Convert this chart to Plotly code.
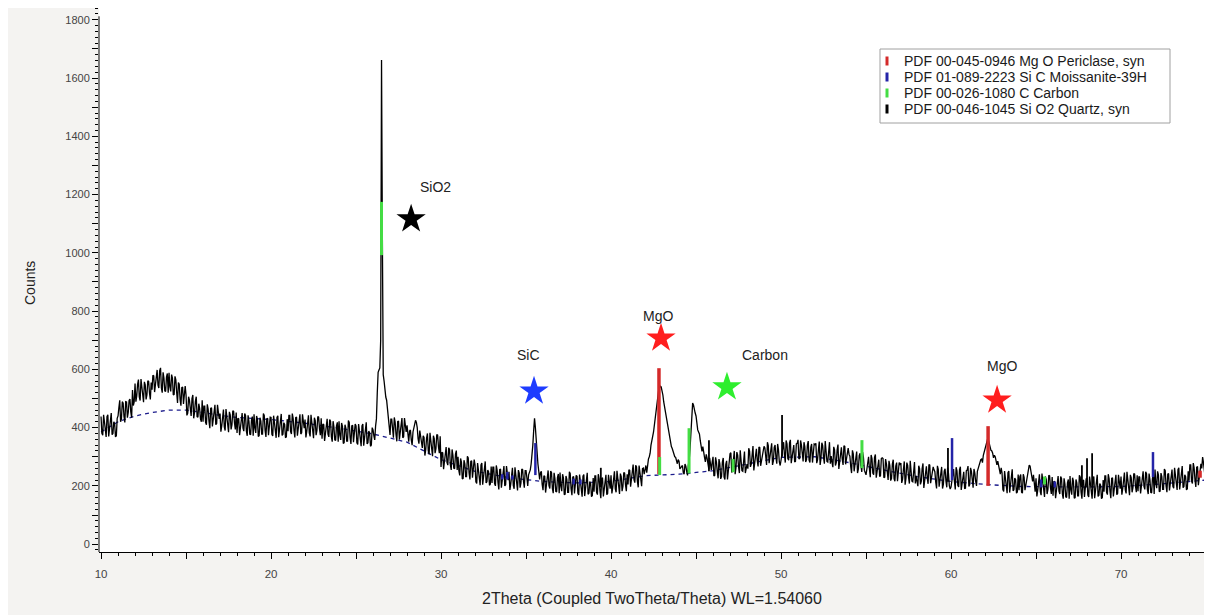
import numpy as np
import plotly.graph_objects as go

# ---------------- data ----------------
# counts at 10.0, 10.1, ... 75.0 deg
theta_start = 10.0
theta_step = 0.1
counts = [
    438, 374, 420, 368, 444, 394, 450, 380, 414, 372,   # 10
    440, 494, 430, 484, 418, 488, 452, 498, 434, 476,   # 11
    551, 509, 565, 493, 533, 487, 547, 513, 559, 497,   # 12
    530, 578, 550, 598, 536, 605, 520, 570, 524, 586,   # 13
    588, 524, 570, 514, 564, 485, 549, 475, 539, 507,   # 14
    512, 450, 494, 440, 512, 452, 506, 436, 466, 420,   # 15
    420, 474, 410, 464, 398, 468, 432, 478, 414, 456,   # 16
    448, 406, 462, 390, 430, 384, 444, 410, 456, 394,   # 17
    382, 430, 402, 450, 388, 442, 372, 422, 376, 438,   # 18
    446, 382, 428, 372, 422, 378, 442, 368, 432, 400,   # 19
    435, 371, 417, 365, 441, 391, 447, 377, 411, 369,   # 20
    388, 442, 378, 432, 366, 436, 400, 446, 382, 424,   # 21
    428, 386, 442, 370, 410, 364, 424, 390, 436, 374,   # 22
    362, 410, 382, 430, 368, 422, 352, 402, 356, 418,   # 23
    422, 358, 404, 348, 398, 354, 418, 344, 408, 376,   # 24
    406, 342, 388, 336, 412, 362, 418, 348, 382, 340,   # 25
    392, 358, 430, 590, 605, 1662, 582, 520, 494, 440,  # 26
    375, 429, 365, 419, 353, 423, 387, 433, 369, 411,   # 27
    408, 352, 392, 340, 398, 425, 400, 345, 372, 330,   # 28
    366, 324, 380, 308, 348, 302, 362, 328, 374, 312,   # 29
    265, 313, 285, 333, 271, 325, 255, 305, 259, 321,   # 30
    300, 236, 282, 226, 276, 232, 296, 222, 286, 254,   # 31
    272, 208, 254, 202, 278, 228, 284, 214, 248, 206,   # 32
    210, 264, 200, 254, 188, 258, 222, 268, 204, 246,   # 33
    248, 206, 262, 190, 230, 184, 244, 210, 256, 194,   # 34
    252, 200, 248, 275, 340, 432, 350, 275, 222, 250,   # 35
    185, 233, 205, 253, 191, 245, 175, 225, 179, 241,   # 36
    246, 182, 228, 172, 222, 178, 242, 168, 232, 200,   # 37
    233, 169, 215, 163, 239, 189, 245, 175, 209, 167,   # 38
    180, 234, 170, 224, 158, 228, 192, 238, 174, 216,   # 39
    236, 194, 250, 178, 218, 172, 232, 198, 244, 182,   # 40
    205, 253, 225, 273, 211, 265, 195, 245, 199, 261,   # 41
    262, 245, 292, 312, 362, 385, 438, 475, 528, 542,   # 42
    530, 488, 455, 412, 382, 348, 328, 305, 298, 276,   # 43
    285, 262, 270, 240, 268, 236, 290, 380, 484, 455,   # 44
    440, 392, 378, 338, 335, 298, 308, 272, 296, 255,   # 45
    300, 236, 282, 226, 276, 232, 296, 222, 286, 254,   # 46
    310, 246, 292, 240, 316, 266, 322, 252, 286, 244,   # 47
    275, 329, 265, 319, 253, 323, 287, 333, 269, 311,   # 48
    336, 294, 350, 278, 318, 272, 332, 298, 344, 282,   # 49
    288, 336, 308, 356, 294, 348, 278, 328, 282, 344,   # 50
    358, 294, 340, 284, 334, 290, 354, 280, 344, 312,   # 51
    342, 278, 324, 272, 348, 298, 354, 284, 318, 276,   # 52
    280, 334, 270, 324, 258, 328, 292, 338, 274, 316,   # 53
    308, 266, 322, 250, 290, 244, 304, 270, 316, 254,   # 54
    238, 286, 258, 306, 244, 298, 228, 278, 232, 294,   # 55
    294, 230, 276, 220, 270, 226, 290, 216, 280, 248,   # 56
    274, 210, 256, 204, 280, 230, 286, 216, 250, 208,   # 57
    215, 269, 205, 259, 193, 263, 227, 273, 209, 251,   # 58
    255, 213, 269, 197, 237, 191, 251, 217, 263, 201,   # 59
    196, 244, 216, 264, 202, 256, 186, 236, 190, 252,   # 60
    268, 204, 250, 194, 244, 200, 262, 278, 292, 305,   # 61
    328, 350, 357, 332, 320, 296, 300, 272, 268, 240,   # 62
    245, 181, 227, 175, 251, 201, 257, 187, 221, 179,   # 63
    185, 239, 175, 229, 200, 240, 271, 250, 215, 196,   # 64
    226, 184, 240, 168, 208, 162, 222, 188, 234, 172,   # 65
    166, 214, 186, 234, 172, 226, 156, 206, 160, 222,   # 66
    234, 170, 216, 160, 210, 166, 230, 156, 220, 188,   # 67
    226, 162, 208, 156, 232, 182, 238, 168, 202, 160,   # 68
    180, 234, 170, 224, 158, 228, 192, 238, 174, 216,   # 69
    232, 190, 246, 174, 214, 168, 228, 194, 240, 178,   # 70
    182, 230, 202, 250, 188, 242, 172, 222, 176, 238,   # 71
    256, 192, 238, 182, 232, 188, 252, 178, 242, 210,   # 72
    256, 192, 238, 186, 262, 212, 268, 198, 232, 190,   # 73
    218, 272, 208, 262, 196, 266, 230, 276, 299, 262,   # 74
    250,                                                # 75
]

# counts at the in-between steps 10.05, 10.15, ... 74.95 deg
counts_mid = [
    380, 444, 394, 438, 370, 428, 376, 420, 368, 432,   # 10
    469, 420, 489, 438, 489, 434, 493, 454, 529, 488,   # 11
    489, 549, 505, 567, 513, 557, 497, 561, 519, 555,   # 12
    580, 522, 588, 546, 596, 536, 590, 526, 574, 520,   # 13
    540, 582, 512, 576, 520, 555, 497, 537, 481, 543,   # 14
    442, 506, 456, 500, 432, 490, 438, 482, 430, 494,   # 15
    474, 418, 480, 422, 466, 404, 456, 410, 478, 430,   # 16
    386, 446, 402, 464, 410, 454, 394, 458, 416, 452,   # 17
    432, 374, 440, 398, 448, 388, 442, 378, 426, 372,   # 18
    398, 440, 370, 434, 378, 448, 390, 430, 374, 436,   # 19
    377, 441, 391, 435, 367, 425, 373, 417, 365, 429,   # 20
    442, 386, 448, 390, 434, 372, 424, 378, 446, 398,   # 21
    366, 426, 382, 444, 390, 434, 374, 438, 396, 432,   # 22
    412, 354, 420, 378, 428, 368, 422, 358, 406, 352,   # 23
    374, 416, 346, 410, 354, 424, 366, 406, 350, 412,   # 24
    348, 412, 362, 406, 338, 396, 344, 388, 336, 400,   # 25
    372, 405, 520, 598, 700, 1050, 560, 505, 470, 405,  # 26
    429, 373, 435, 377, 421, 359, 411, 365, 433, 385,   # 27
    372, 388, 358, 385, 410, 418, 362, 390, 340, 372,   # 28
    304, 364, 320, 382, 328, 372, 312, 376, 334, 370,   # 29
    315, 257, 323, 281, 331, 271, 325, 261, 309, 255,   # 30
    252, 294, 224, 288, 232, 302, 244, 284, 228, 290,   # 31
    214, 278, 228, 272, 204, 262, 210, 254, 202, 266,   # 32
    264, 208, 270, 212, 256, 194, 246, 200, 268, 220,   # 33
    186, 246, 202, 264, 210, 254, 194, 258, 216, 252,   # 34
    228, 238, 255, 300, 390, 400, 300, 250, 245, 205,   # 35
    235, 177, 243, 201, 251, 191, 245, 181, 229, 175,   # 36
    198, 240, 170, 234, 178, 248, 190, 230, 174, 236,   # 37
    175, 239, 189, 233, 165, 223, 171, 215, 163, 227,   # 38
    234, 178, 240, 182, 226, 164, 216, 170, 238, 190,   # 39
    174, 234, 190, 252, 198, 242, 182, 246, 204, 240,   # 40
    255, 197, 263, 221, 271, 216, 270, 211, 259, 240,   # 41
    270, 272, 300, 340, 370, 410, 452, 505, 535, 540,   # 42
    512, 470, 440, 395, 368, 335, 318, 300, 282, 290,   # 43
    258, 270, 246, 275, 250, 272, 330, 440, 478, 450,   # 44
    410, 385, 355, 318, 322, 282, 295, 258, 270, 282,   # 45
    234, 298, 248, 292, 224, 282, 230, 274, 222, 286,   # 46
    314, 258, 320, 262, 306, 244, 296, 250, 318, 270,   # 47
    259, 319, 275, 337, 283, 327, 267, 331, 289, 325,   # 48
    330, 272, 338, 296, 346, 286, 340, 276, 324, 270,   # 49
    308, 350, 280, 344, 288, 358, 300, 340, 284, 346,   # 50
    292, 356, 306, 350, 282, 340, 288, 332, 280, 344,   # 51
    346, 290, 352, 294, 338, 276, 328, 282, 350, 302,   # 52
    264, 324, 280, 342, 288, 332, 272, 336, 294, 330,   # 53
    302, 244, 310, 268, 318, 258, 312, 248, 296, 242,   # 54
    258, 300, 230, 294, 238, 308, 250, 290, 234, 296,   # 55
    228, 292, 242, 286, 218, 276, 224, 268, 216, 280,   # 56
    278, 222, 284, 226, 270, 208, 260, 214, 282, 234,   # 57
    199, 259, 215, 277, 223, 267, 207, 271, 229, 265,   # 58
    249, 191, 257, 215, 265, 205, 259, 195, 243, 189,   # 59
    216, 258, 188, 252, 196, 266, 208, 248, 192, 254,   # 60
    198, 262, 212, 258, 215, 250, 265, 290, 280, 318,   # 61
    340, 360, 345, 322, 312, 305, 282, 285, 248, 262,   # 62
    187, 251, 201, 245, 177, 235, 183, 227, 175, 239,   # 63
    232, 178, 240, 185, 225, 255, 268, 235, 238, 180,   # 64
    164, 224, 180, 242, 188, 232, 172, 236, 194, 230,   # 65
    216, 158, 224, 182, 232, 172, 226, 162, 210, 156,   # 66
    186, 228, 158, 222, 166, 236, 178, 218, 162, 224,   # 67
    168, 232, 182, 226, 158, 216, 164, 208, 156, 220,   # 68
    234, 178, 240, 182, 226, 164, 216, 170, 238, 190,   # 69
    170, 230, 186, 248, 194, 238, 178, 242, 200, 236,   # 70
    232, 174, 240, 198, 248, 188, 242, 178, 226, 172,   # 71
    208, 250, 180, 244, 188, 258, 200, 240, 184, 246,   # 72
    198, 262, 212, 256, 188, 246, 194, 238, 186, 250,   # 73
    272, 216, 278, 220, 264, 202, 254, 260, 280, 228,   # 74
]

baseline_x = [10, 11, 12, 13, 14, 15, 16, 17, 18, 20, 22, 24, 26, 28, 30, 32, 34, 36,
              38, 40, 42, 44, 46, 48, 50, 52, 54, 56, 58, 60, 62, 64, 66, 68, 70, 72, 74, 75]
baseline_y = [385, 420, 440, 452, 460, 460, 452, 442, 435, 428, 415, 398, 378, 350, 290,
              250, 228, 215, 210, 215, 235, 240, 252, 275, 298, 300, 280, 255, 232, 215,
              205, 198, 196, 196, 198, 205, 215, 220]

# reference patterns (stick position, visible bottom, top)
mgo_pos = [42.82, 62.18, 74.65]
mgo_bottom = [240, 200, 228]
mgo_top = [604, 405, 252]

sic_pos = [33.6, 33.9, 34.2, 35.55, 37.8, 38.2, 60.06, 65.3, 66.1, 71.88]
sic_bottom = [222, 222, 222, 237, 205, 205, 220, 195, 195, 230]
sic_top = [240, 248, 236, 347, 225, 222, 364, 222, 215, 316]

carbon_pos = [26.5, 42.86, 44.59, 47.18, 54.76, 65.5]
carbon_bottom = [992, 237, 243, 247, 261, 205]
carbon_top = [1175, 299, 398, 292, 357, 232]

quartz_pos = [39.4, 45.76, 50.06, 59.82, 67.7, 68.0, 68.3]
quartz_bottom = [195, 250, 300, 215, 195, 195, 195]
quartz_top = [262, 357, 443, 330, 271, 295, 312]

legend_labels = ["PDF 00-045-0946 Mg O Periclase, syn",
                 "PDF 01-089-2223 Si C Moissanite-39H",
                 "PDF 00-026-1080 C Carbon",
                 "PDF 00-046-1045 Si O2 Quartz, syn"]
legend_colors = ["#d42a2a", "#2424a8", "#44dd44", "#000000"]

star_labels = ["SiO2", "SiC", "MgO", "Carbon", "MgO"]
star_x = [28.24, 35.47, 42.94, 46.82, 62.71]
star_y = [1116, 525, 707, 539, 494]
star_colors = ["#000000", "#1e3cff", "#ff1e1e", "#2eee2e", "#ff1e1e"]
label_x = [29.7, 35.12, 42.76, 49.06, 63.0]
label_y = [1226, 649, 783, 649, 611]

x_tickvals = [10, 15, 20, 25, 30, 35, 40, 45, 50, 55, 60, 65, 70]
x_ticktext = ["10", "", "20", "", "30", "", "40", "", "50", "", "60", "", "70"]
y_tickvals = list(range(0, 1801, 100))
y_ticktext = [str(v) if v % 200 == 0 else "" for v in y_tickvals]

# ---------------- figure ----------------
theta_main = np.round(theta_start + theta_step * np.arange(len(counts)), 3)
theta_mid = np.round(theta_start + theta_step / 2 + theta_step * np.arange(len(counts_mid)), 3)
two_theta, intensity = [], []
for i in range(len(counts_mid)):
    two_theta += [theta_main[i], theta_mid[i]]
    intensity += [counts[i], counts_mid[i]]
two_theta.append(theta_main[-1])
intensity.append(counts[-1])

FONT = "Arial, Liberation Sans, sans-serif"
fig = go.Figure()

fig.add_trace(go.Scatter(x=baseline_x, y=baseline_y, mode="lines",
                         line=dict(color="#1c1c8c", width=1.3, dash="4px,4px"),
                         showlegend=False, hoverinfo="skip"))
fig.add_trace(go.Scatter(x=two_theta, y=intensity, mode="lines",
                         line=dict(color="#000000", width=1.3),
                         showlegend=False, name="Sample"))


def sticks(pos, bottom, top):
    xs, ys = [], []
    for p, b, t in zip(pos, bottom, top):
        xs += [p, p, None]
        ys += [b, t, None]
    return xs, ys


for pos, bot, top, col, w in [
    (sic_pos, sic_bottom, sic_top, legend_colors[1], 2.5),
    (quartz_pos, quartz_bottom, quartz_top, legend_colors[3], 1.8),
    (mgo_pos, mgo_bottom, mgo_top, legend_colors[0], 3.5),
    (carbon_pos, carbon_bottom, carbon_top, legend_colors[2], 3.0),
]:
    xs, ys = sticks(pos, bot, top)
    fig.add_trace(go.Scatter(x=xs, y=ys, mode="lines", line=dict(color=col, width=w),
                             showlegend=False, hoverinfo="skip"))

fig.add_trace(go.Scatter(x=star_x, y=star_y, mode="markers",
                         marker=dict(symbol="star", size=22, color=star_colors,
                                     line=dict(width=0)),
                         showlegend=False, hoverinfo="skip"))

for t, x, y in zip(star_labels, label_x, label_y):
    fig.add_annotation(x=x, y=y, xref="x", yref="y", text=t, showarrow=False,
                       font=dict(family=FONT, size=14, color="#222222"))

# page layout: the page body adds an 8 px offset; positions below are page pixels
OFF = 8
FIG_W, FIG_H = 1212 - OFF, 615 - OFF
PL, PR, PT, PB = 99, 1205, 8, 552          # plot area in page pixels
def px(xp):
    return (xp - PL) / (PR - PL)
def py(yp):
    return (PB - yp) / (PB - PT)

# legend box
fig.add_shape(type="rect", xref="paper", yref="paper",
              x0=px(880), x1=px(1170), y0=py(123), y1=py(49),
              line=dict(color="#a0a0a0", width=1), fillcolor="white", layer="above")
for i, (lab, col) in enumerate(zip(legend_labels, legend_colors)):
    yc = 61 + 16 * i
    fig.add_shape(type="line", xref="paper", yref="paper",
                  x0=px(887), x1=px(887), y0=py(yc + 4.5), y1=py(yc - 4.5),
                  line=dict(color=col, width=3), layer="above")
    fig.add_annotation(x=px(902), y=py(yc), xref="paper", yref="paper", text=lab,
                       showarrow=False, xanchor="left", yanchor="middle",
                       font=dict(family=FONT, size=14, color="#1a1a1a"))

# axis titles
fig.add_annotation(x=px(652), y=py(598), xref="paper", yref="paper",
                   text="2Theta (Coupled TwoTheta/Theta) WL=1.54060", showarrow=False,
                   xanchor="center", yanchor="middle",
                   font=dict(family=FONT, size=16, color="#222222"))
fig.add_annotation(x=px(30), y=py(283), xref="paper", yref="paper", text="Counts",
                   showarrow=False, textangle=-90, xanchor="center", yanchor="middle",
                   font=dict(family=FONT, size=14, color="#222222"))

# y-axis line (ends near the top tick like the reference)
fig.add_shape(type="line", xref="paper", yref="y", x0=0, x1=0, y0=-27, y1=1812,
              line=dict(color="#000000", width=1))

fig.update_layout(
    width=FIG_W, height=FIG_H,
    margin=dict(l=PL - OFF, r=FIG_W - (PR - OFF), t=PT - OFF, b=FIG_H - (PB - OFF)),
    paper_bgcolor="#f4f3f1", plot_bgcolor="#ffffff",
    font=dict(family=FONT, color="#333333"),
    showlegend=False,
    xaxis=dict(range=[9.88, 74.94], showgrid=False, zeroline=False, automargin=False,
               showline=True, linecolor="#000000", linewidth=1,
               tickmode="array", tickvals=x_tickvals, ticktext=x_ticktext,
               ticks="outside", ticklen=6, tickcolor="#000000", tickwidth=1,
               ticklabelstandoff=5,
               minor=dict(dtick=1, ticks="outside", ticklen=3, tickcolor="#000000"),
               tickfont=dict(family=FONT, size=11.5, color="#444444")),
    yaxis=dict(range=[-27, -27 + (PB - PT) / 0.2913], showgrid=False, zeroline=False,
               showline=False, automargin=False,
               tickmode="array", tickvals=y_tickvals, ticktext=y_ticktext,
               ticks="outside", ticklen=6, tickcolor="#000000", tickwidth=1,
               minor=dict(dtick=20, ticks="outside", ticklen=3, tickcolor="#000000"),
               tickfont=dict(family=FONT, size=11, color="#444444")),
)

fig.write_html("out.html")
